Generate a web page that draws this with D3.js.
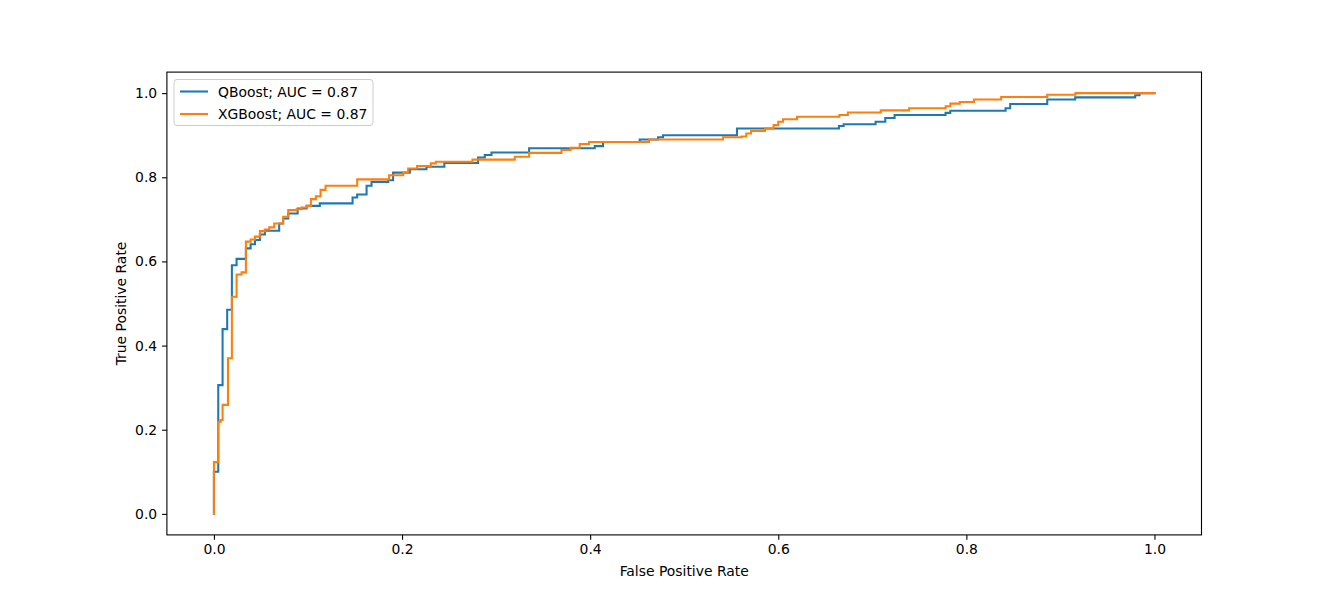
<!DOCTYPE html>
<html>
<head>
<meta charset="utf-8">
<script src="https://cdn.jsdelivr.net/npm/d3@7"></script>
<style>
  html, body { margin: 0; padding: 0; background: #fff; }
  svg { display: block; }
  text { font-family: "DejaVu Sans", sans-serif; }
</style>
</head>
<body>
<svg id="chart" width="1335" height="601"></svg>
<script>
// ROC curve data (points where the curve steps up: fpr, tpr)
const qboostFpr = [0, 0, 0.0046, 0.0092, 0.0141, 0.0191, 0.0241, 0.034, 0.039, 0.0436, 0.0489, 0.0542, 0.0694, 0.0736, 0.079, 0.089, 0.0985, 0.1126, 0.1474, 0.1523, 0.1623, 0.1676, 0.1853, 0.1905, 0.2083, 0.226, 0.245, 0.2809, 0.288, 0.2951, 0.3351, 0.4049, 0.4137, 0.4527, 0.4722, 0.4775, 0.5561, 0.6645, 0.6695, 0.7035, 0.7138, 0.7237, 0.7779, 0.7829, 0.8417, 0.8466, 0.886, 0.9157, 0.9795, 0.9841, 1.0];
const qboostTpr = [0, 0.1, 0.306, 0.439, 0.485, 0.591, 0.606, 0.631, 0.641, 0.651, 0.664, 0.673, 0.690, 0.702, 0.714, 0.726, 0.732, 0.738, 0.752, 0.759, 0.780, 0.789, 0.793, 0.811, 0.819, 0.825, 0.834, 0.847, 0.853, 0.859, 0.869, 0.874, 0.884, 0.890, 0.895, 0.900, 0.916, 0.922, 0.926, 0.932, 0.941, 0.948, 0.953, 0.958, 0.964, 0.974, 0.985, 0.990, 0.995, 1.0, 1.0];

const xgbFpr = [0, 0, 0.0046, 0.007, 0.0092, 0.0149, 0.0191, 0.0241, 0.0294, 0.034, 0.039, 0.0436, 0.0489, 0.0542, 0.0588, 0.0641, 0.0736, 0.079, 0.0879, 0.0932, 0.0992, 0.1031, 0.1084, 0.1134, 0.1187, 0.1523, 0.1863, 0.2012, 0.2065, 0.216, 0.2306, 0.2359, 0.2749, 0.3199, 0.3351, 0.3695, 0.3791, 0.3889, 0.3988, 0.4626, 0.5412, 0.561, 0.566, 0.571, 0.586, 0.595, 0.600, 0.605, 0.620, 0.665, 0.674, 0.709, 0.739, 0.778, 0.783, 0.793, 0.808, 0.837, 0.886, 0.916, 1.0];
const xgbTpr = [0, 0.123, 0.219, 0.223, 0.259, 0.370, 0.516, 0.569, 0.574, 0.647, 0.652, 0.659, 0.672, 0.676, 0.681, 0.690, 0.706, 0.722, 0.724, 0.728, 0.732, 0.748, 0.755, 0.770, 0.780, 0.795, 0.805, 0.811, 0.821, 0.827, 0.833, 0.837, 0.842, 0.849, 0.858, 0.865, 0.870, 0.879, 0.884, 0.890, 0.895, 0.897, 0.904, 0.910, 0.916, 0.924, 0.932, 0.938, 0.944, 0.948, 0.954, 0.959, 0.964, 0.969, 0.975, 0.979, 0.985, 0.991, 0.996, 1.0, 1.0];

const seriesNames = ["QBoost; AUC = 0.87", "XGBoost; AUC = 0.87"];
const seriesColors = ["#1f77b4", "#ff7f0e"];
const xTicks = [0.0, 0.2, 0.4, 0.6, 0.8, 1.0];
const yTicks = [0.0, 0.2, 0.4, 0.6, 0.8, 1.0];

(function () {
const mLeft = 166.9, mRight = 1201.5, mTop = 72.1, mBottom = 534.9;

const svg = d3.select("#chart");
const x = d3.scaleLinear().domain([-0.05, 1.05]).range([mLeft, mRight]);
const y = d3.scaleLinear().domain([-0.05, 1.05]).range([mBottom, mTop]);

const series = [
  { name: seriesNames[0], color: seriesColors[0], pts: qboostFpr.map((f, i) => [f, qboostTpr[i]]) },
  { name: seriesNames[1], color: seriesColors[1], pts: xgbFpr.map((f, i) => [f, xgbTpr[i]]) }
];

const line = d3.line().x(d => x(d[0])).y(d => y(d[1])).curve(d3.curveStepAfter);

svg.append("clipPath").attr("id", "clip")
  .append("rect").attr("x", mLeft).attr("y", mTop).attr("width", mRight - mLeft).attr("height", mBottom - mTop);

svg.append("g").attr("clip-path", "url(#clip)")
  .selectAll("path").data(series).join("path")
  .attr("d", d => line(d.pts))
  .attr("fill", "none")
  .attr("stroke", d => d.color)
  .attr("stroke-width", 2.08)
  .attr("stroke-linejoin", "miter")
  .attr("stroke-linecap", "square");

const fmt = d3.format(".1f");
const xAxis = svg.append("g").attr("transform", `translate(0,${mBottom})`)
  .call(d3.axisBottom(x).tickValues(xTicks).tickFormat(fmt).tickSize(4.86).tickPadding(4.86));
const yAxis = svg.append("g").attr("transform", `translate(${mLeft},0)`)
  .call(d3.axisLeft(y).tickValues(yTicks).tickFormat(fmt).tickSize(4.86).tickPadding(4.86));
[xAxis, yAxis].forEach(a => {
  a.select(".domain").remove();
  a.selectAll(".tick line").attr("stroke", "#000").attr("stroke-width", 1.1);
  a.selectAll(".tick text").attr("font-family", "DejaVu Sans, sans-serif").attr("font-size", 13.9).attr("fill", "#000");
});

svg.append("rect").attr("x", mLeft).attr("y", mTop).attr("width", mRight - mLeft).attr("height", mBottom - mTop)
  .attr("fill", "none").attr("stroke", "#000").attr("stroke-width", 1.1);

svg.append("text").attr("x", (mLeft + mRight) / 2).attr("y", 576)
  .attr("text-anchor", "middle").attr("font-size", 13.9).text("False Positive Rate");
svg.append("text").attr("transform", `translate(126,${(mTop + mBottom) / 2}) rotate(-90)`)
  .attr("text-anchor", "middle").attr("font-size", 13.9).text("True Positive Rate");

const lg = svg.append("g");
lg.append("rect").attr("x", 174).attr("y", 79.5).attr("width", 199).attr("height", 46).attr("rx", 3)
  .attr("fill", "#fff").attr("fill-opacity", 0.8).attr("stroke", "#ccc").attr("stroke-width", 1);
series.forEach((s, i) => {
  const yy = 91.5 + i * 22.5;
  lg.append("line").attr("x1", 180).attr("x2", 208).attr("y1", yy).attr("y2", yy)
    .attr("stroke", s.color).attr("stroke-width", 2.08);
  lg.append("text").attr("x", 218).attr("y", yy + 5).attr("font-size", 13.9).text(s.name);
});
})();
</script>
</body>
</html>
